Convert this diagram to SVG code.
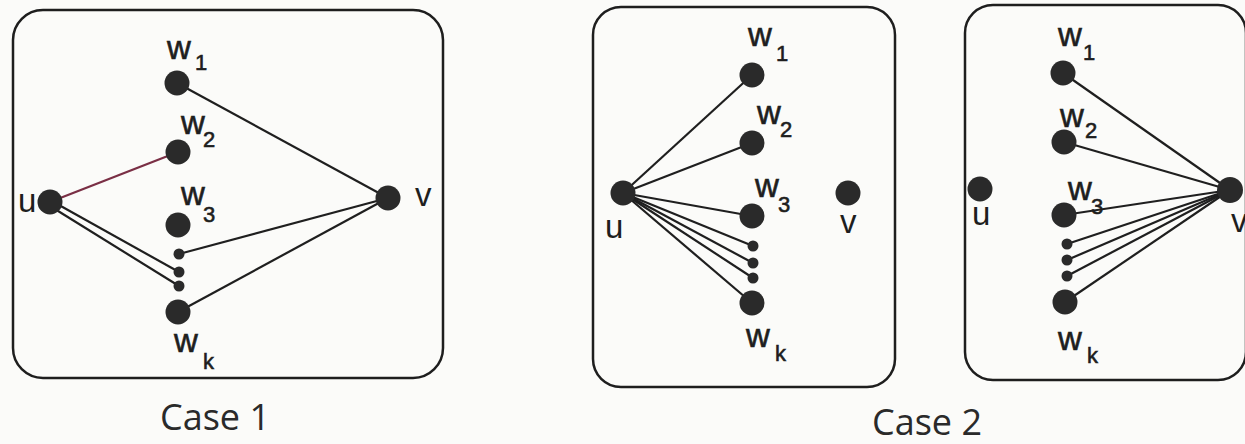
<svg xmlns="http://www.w3.org/2000/svg" width="1245" height="444" viewBox="0 0 1245 444">
<style>
.box{fill:none;stroke:#1e1e1e;stroke-width:2.5}
.e{stroke:#1f1f1f;stroke-width:2.2;fill:none}
.red{stroke:#7a2f45}
.n{fill:#2a2a2a}
.lbl{font-family:"Liberation Sans",Arial,sans-serif;font-size:33px;fill:#1e1e1e}
.w{stroke:#1e1e1e;stroke-width:0.6}
.sub{font-size:22px}
.cap{font-family:"Open Sans","DejaVu Sans",sans-serif;font-size:36px;fill:#2a2a2a}
</style>
<rect width="1245" height="444" fill="#fbfbf9"/>
<g id="frames">
<rect class="box" x="13" y="10" width="430" height="368" rx="30"/>
<rect class="box" x="593" y="7" width="302" height="380" rx="28"/>
<rect class="box" x="965" y="5" width="281" height="375" rx="28"/>
</g>
<g id="connectors">
<line class="e" x1="177" y1="83" x2="388" y2="198"/>
<line class="e red" x1="50" y1="202" x2="178" y2="152"/>
<line class="e" x1="50" y1="200" x2="179" y2="272"/>
<line class="e" x1="50" y1="206" x2="179" y2="286"/>
<line class="e" x1="179" y1="254" x2="388" y2="198"/>
<line class="e" x1="178" y1="312" x2="388" y2="198"/>
<line class="e" x1="623" y1="193" x2="752" y2="75"/>
<line class="e" x1="623" y1="193" x2="752" y2="143"/>
<line class="e" x1="623" y1="193" x2="752" y2="216"/>
<line class="e" x1="623" y1="193" x2="753" y2="246"/>
<line class="e" x1="623" y1="193" x2="753" y2="263"/>
<line class="e" x1="623" y1="193" x2="753" y2="278"/>
<line class="e" x1="623" y1="193" x2="752" y2="303"/>
<line class="e" x1="1063" y1="73" x2="1230" y2="190"/>
<line class="e" x1="1064" y1="142" x2="1230" y2="190"/>
<line class="e" x1="1064" y1="215" x2="1230" y2="190"/>
<line class="e" x1="1067" y1="244" x2="1230" y2="190"/>
<line class="e" x1="1067" y1="260" x2="1230" y2="190"/>
<line class="e" x1="1067" y1="276" x2="1230" y2="190"/>
<line class="e" x1="1065" y1="302" x2="1230" y2="190"/>
</g>
<g id="case1-w1"><circle class="n" cx="177" cy="83" r="12.5"/><text class="lbl w" x="167" y="59">w<tspan class="sub" x="195" y="70">1</tspan></text></g>
<g id="case1-w2"><circle class="n" cx="178" cy="152" r="12.5"/><text class="lbl w" x="181" y="134">w<tspan class="sub" x="203" y="147">2</tspan></text></g>
<g id="case1-w3"><circle class="n" cx="178" cy="225" r="12.5"/><text class="lbl w" x="181" y="205">w<tspan class="sub" x="203" y="222">3</tspan></text></g>
<g id="case1-dots"><circle class="n" cx="179" cy="254" r="5.5"/><circle class="n" cx="179" cy="272" r="5.5"/><circle class="n" cx="179" cy="286" r="5.5"/></g>
<g id="case1-wk"><circle class="n" cx="178" cy="312" r="12.5"/><text class="lbl w" x="174" y="352">w<tspan class="sub" x="203" y="369">k</tspan></text></g>
<g id="case1-u"><circle class="n" cx="50" cy="202" r="12.5"/><text class="lbl" x="18" y="212">u</text></g>
<g id="case1-v"><circle class="n" cx="388" cy="198" r="12.5"/><text class="lbl" x="415" y="206">v</text></g>
<g id="case2a-w1"><circle class="n" cx="752" cy="75" r="12.5"/><text class="lbl w" x="748" y="46">w<tspan class="sub" x="776" y="61">1</tspan></text></g>
<g id="case2a-w2"><circle class="n" cx="752" cy="143" r="12.5"/><text class="lbl w" x="757" y="124">w<tspan class="sub" x="780" y="137">2</tspan></text></g>
<g id="case2a-w3"><circle class="n" cx="752" cy="216" r="12.5"/><text class="lbl w" x="755" y="197">w<tspan class="sub" x="778" y="212">3</tspan></text></g>
<g id="case2a-dots"><circle class="n" cx="753" cy="246" r="5.5"/><circle class="n" cx="753" cy="263" r="5.5"/><circle class="n" cx="753" cy="278" r="5.5"/></g>
<g id="case2a-wk"><circle class="n" cx="752" cy="303" r="12.5"/><text class="lbl w" x="746" y="347">w<tspan class="sub" x="775" y="361">k</tspan></text></g>
<g id="case2a-u"><circle class="n" cx="623" cy="193" r="12.5"/><text class="lbl" x="605" y="238">u</text></g>
<g id="case2a-v"><circle class="n" cx="848" cy="193" r="12.5"/><text class="lbl" x="840" y="233">v</text></g>
<g id="case2b-w1"><circle class="n" cx="1063" cy="73" r="12.5"/><text class="lbl w" x="1058" y="46">w<tspan class="sub" x="1083" y="60">1</tspan></text></g>
<g id="case2b-w2"><circle class="n" cx="1064" cy="142" r="12.5"/><text class="lbl w" x="1060" y="127">w<tspan class="sub" x="1085" y="138">2</tspan></text></g>
<g id="case2b-w3"><circle class="n" cx="1064" cy="215" r="12.5"/><text class="lbl w" x="1068" y="200">w<tspan class="sub" x="1091" y="214">3</tspan></text></g>
<g id="case2b-dots"><circle class="n" cx="1067" cy="244" r="5.5"/><circle class="n" cx="1067" cy="260" r="5.5"/><circle class="n" cx="1067" cy="276" r="5.5"/></g>
<g id="case2b-wk"><circle class="n" cx="1065" cy="302" r="12.5"/><text class="lbl w" x="1058" y="350">w<tspan class="sub" x="1087" y="363">k</tspan></text></g>
<g id="case2b-u"><circle class="n" cx="980" cy="189" r="12.5"/><text class="lbl" x="972" y="225">u</text></g>
<g id="case2b-v"><circle class="n" cx="1230" cy="190" r="13"/><text class="lbl" x="1231" y="232">v</text></g>
<text class="cap" x="160" y="430">Case 1</text>
<text class="cap" x="872" y="435">Case 2</text>
</svg>
